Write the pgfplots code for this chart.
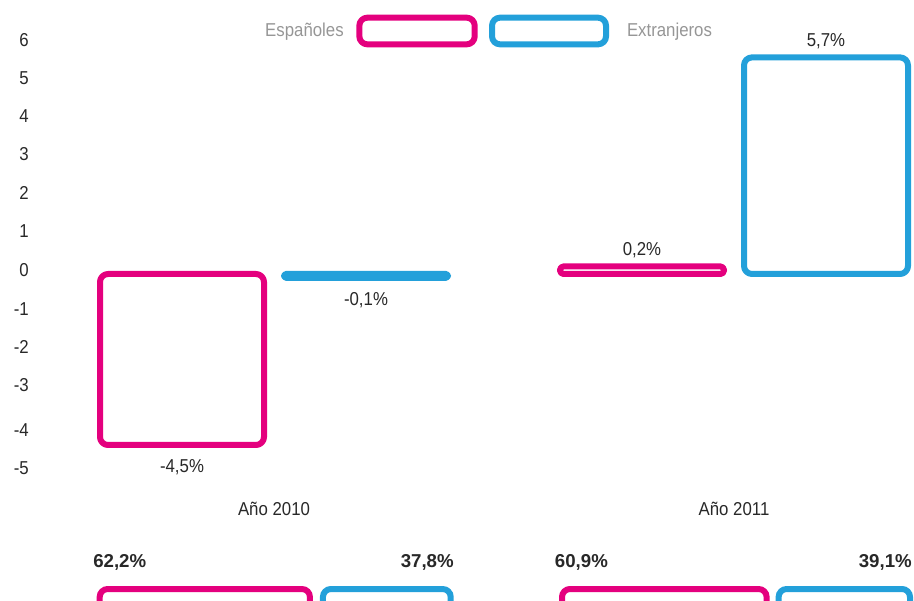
\documentclass[border=0pt]{standalone}
\usepackage{pgfplots}
\pgfplotsset{compat=1.18}
\usepackage{fontspec}
\setmainfont{Liberation Sans}[FakeStretch=0.9]
\newfontfamily\bnum{Liberation Sans}
\definecolor{mag}{RGB}{228,0,126}
\definecolor{cya}{RGB}{35,160,218}
\definecolor{txt}{RGB}{40,40,40}
\definecolor{leg}{RGB}{150,150,150}
\begin{document}
\fontsize{14pt}{16pt}\selectfont
\begin{tikzpicture}[x=1pt,y=1pt]
\useasboundingbox (0,0) rectangle (685.5,450);
\clip (0,0) rectangle (685.5,450);
% main chart: x in pixel units
\begin{axis}[
  at={(0pt,87.75pt)}, anchor=south west,
  width=685.5pt, height=342pt, scale only axis,
  xmin=0, xmax=914, ymin=-5.5, ymax=6.5,
  clip=false,
  axis line style={draw=none},
  major tick length=0pt,
  tick style={draw=none},
  ytick={-5,-4,-3,-2,-1,0,1,2,3,4,5,6},
  xtick={274,734},
  xticklabels={Año 2010, Año 2011},
  yticklabel style={anchor=east, inner sep=0pt, xshift=21.75pt, text=txt,
    yshift={{-3,-3,2.25,2.25,2.25,3,3.75,3.75,4.5,4.5,4.5,4.5}[\ticknum]}},
  xticklabel style={anchor=base, inner sep=0pt, yshift=-24.4pt, text=txt},
  /pgf/number format/assume math mode=true,
  legend style={at={(0.2899,0.9912)}, anchor=west, draw=none, fill=none,
    inner sep=0pt, text=leg, nodes={inner sep=0pt}, column sep=0pt},
  legend columns=-1,
  visualization depends on={rawy \as \rawy},
  nodes near coords={\pgfmathprintnumber[fixed,fixed zerofill,precision=1,use comma]{\pgfplotspointmeta}\%},
  nodes near coords style={text=txt, inner sep=3pt, yshift={ifthenelse(\rawy<0,-6,1.5)}},
  every axis plot/.append style={ybar, forget plot, bar width=164, bar shift=0,
    fill=white, line width=4.5pt, line join=round},
]
\addlegendimage{empty legend}
\addlegendentry{Españoles}
\addlegendimage{legend image code/.code={\path (0pt,0pt) (96.75pt,0pt);
   \draw[mag, line width=4.5pt, rounded corners=6pt, fill=white] (9.5pt,-10pt) rectangle (96pt,10pt);}}
\addlegendentry{}
\addlegendimage{legend image code/.code={\path (0pt,0pt) (105.75pt,0pt);
   \draw[cya, line width=4.5pt, rounded corners=6pt, fill=white] (6.75pt,-10pt) rectangle (92.25pt,10pt);}}
\addlegendentry{Extranjeros}
% Españoles
\addplot[draw=mag, rounded corners=6pt] coordinates {(182,-4.5)};
\addplot[draw=mag, rounded corners=2.7pt] coordinates {(642,0.2)};
% Extranjeros
\addplot[draw=cya, rounded corners=1.3pt] coordinates {(366,-0.1)};
\addplot[draw=cya, rounded corners=6pt] coordinates {(826,5.7)};
\end{axis}
% share bars 2010
\begin{axis}[
  at={(74.775pt,-21.75pt)}, anchor=south west,
  width=253.5pt, height=30pt, scale only axis,
  xmin=0, xmax=100, ymin=-1, ymax=1,
  hide axis, clip=false, xbar stacked, bar width=2,
]
\addplot[draw=mag, fill=white, line width=4.5pt, rounded corners=6pt] coordinates {(62.2,0)};
\addplot[draw=cya, fill=white, line width=4.5pt, rounded corners=6pt, xshift=9.75pt] coordinates {(37.8,0)};
\node[anchor=base west, inner sep=0pt, text=txt, font=\bnum\bfseries, xshift=-5pt, yshift=16.5pt] at (axis cs:0,1) {62,2\%};
\node[anchor=base east, inner sep=0pt, text=txt, font=\bnum\bfseries, xshift=12.2pt, yshift=16.5pt] at (axis cs:100,1) {37,8\%};
\end{axis}
% share bars 2011
\begin{axis}[
  at={(421.5pt,-21.75pt)}, anchor=south west,
  width=252pt, height=30pt, scale only axis,
  xmin=0, xmax=100, ymin=-1, ymax=1,
  hide axis, clip=false, xbar stacked, bar width=2,
]
\addplot[draw=mag, fill=white, line width=4.5pt, rounded corners=6pt] coordinates {(60.9,0)};
\addplot[draw=cya, fill=white, line width=4.5pt, rounded corners=6pt, xshift=9pt] coordinates {(39.1,0)};
\node[anchor=base west, inner sep=0pt, text=txt, font=\bnum\bfseries, xshift=-5.5pt, yshift=16.5pt] at (axis cs:0,1) {60,9\%};
\node[anchor=base east, inner sep=0pt, text=txt, font=\bnum\bfseries, xshift=10.5pt, yshift=16.5pt] at (axis cs:100,1) {39,1\%};
\end{axis}
\end{tikzpicture}
\end{document}
